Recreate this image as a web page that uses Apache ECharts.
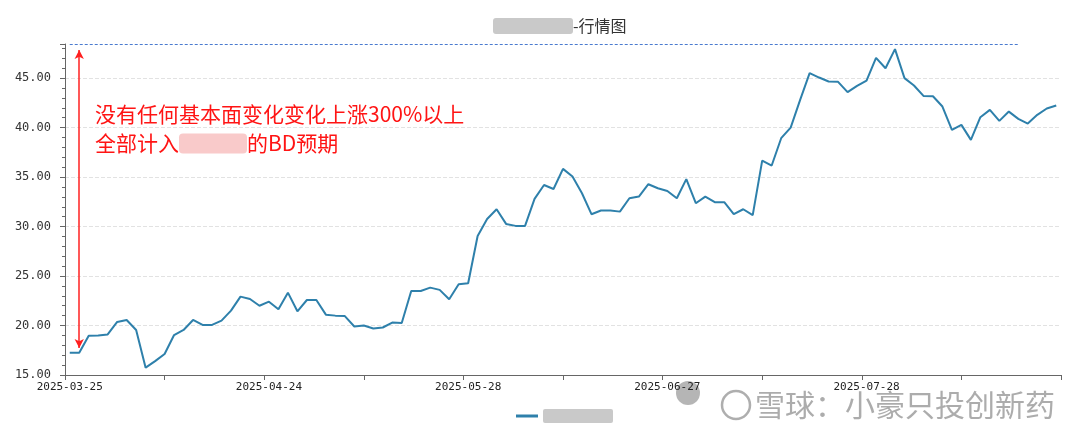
<!DOCTYPE html>
<html><head><meta charset="utf-8">
<script src="https://cdn.jsdelivr.net/npm/echarts@6/dist/echarts.min.js"></script>
<style>html,body{margin:0;padding:0;background:#fff}#c{width:1080px;height:434px}</style>
</head><body><div id="c"></div>
<script>
// ---- data ----
const dates = [
 '2025-03-25','2025-03-26','2025-03-27','2025-03-28','2025-03-31',
 '2025-04-01','2025-04-02','2025-04-03','2025-04-07','2025-04-08','2025-04-09','2025-04-10','2025-04-11',
 '2025-04-14','2025-04-15','2025-04-16','2025-04-17','2025-04-18','2025-04-21','2025-04-22','2025-04-23',
 '2025-04-24','2025-04-25','2025-04-28','2025-04-29','2025-04-30',
 '2025-05-06','2025-05-07','2025-05-08','2025-05-09','2025-05-12','2025-05-13','2025-05-14','2025-05-15','2025-05-16',
 '2025-05-19','2025-05-20','2025-05-21','2025-05-22','2025-05-23','2025-05-26','2025-05-27','2025-05-28','2025-05-29','2025-05-30',
 '2025-06-03','2025-06-04','2025-06-05','2025-06-06','2025-06-09','2025-06-10','2025-06-11','2025-06-12','2025-06-13',
 '2025-06-16','2025-06-17','2025-06-18','2025-06-19','2025-06-20','2025-06-23','2025-06-24','2025-06-25','2025-06-26','2025-06-27','2025-06-30',
 '2025-07-01','2025-07-02','2025-07-03','2025-07-04','2025-07-07','2025-07-08','2025-07-09','2025-07-10','2025-07-11',
 '2025-07-14','2025-07-15','2025-07-16','2025-07-17','2025-07-18','2025-07-21','2025-07-22','2025-07-23','2025-07-24','2025-07-25',
 '2025-07-28','2025-07-29','2025-07-30','2025-07-31','2025-08-01','2025-08-04','2025-08-05','2025-08-06','2025-08-07','2025-08-08',
 '2025-08-11','2025-08-12','2025-08-13','2025-08-14','2025-08-15','2025-08-18','2025-08-19','2025-08-20','2025-08-21','2025-08-22','2025-08-25'
];
const prices = [
 17.25,17.25,18.97,19.00,19.10,20.36,20.56,19.55,15.74,16.40,
 17.12,19.04,19.55,20.56,20.06,20.06,20.49,21.50,22.92,22.68,
 22.00,22.41,21.64,23.32,21.44,22.58,22.58,21.10,21.00,20.95,
 19.90,20.00,19.70,19.80,20.30,20.25,23.49,23.49,23.83,23.60,
 22.65,24.17,24.27,29.05,30.77,31.75,30.27,30.07,30.07,32.80,
 34.20,33.80,35.83,35.05,33.37,31.25,31.62,31.62,31.51,32.86,
 33.03,34.28,33.87,33.60,32.86,34.80,32.36,33.03,32.46,32.46,
 31.25,31.75,31.15,36.67,36.17,38.93,40.00,42.80,45.50,45.06,
 44.66,44.63,43.58,44.22,44.76,47.05,46.00,47.93,45.00,44.26,
 43.20,43.17,42.13,39.77,40.28,38.76,41.05,41.79,40.68,41.62,
 40.88,40.41,41.29,41.93,42.23
];
const tickSlots = ['','','','','','','','','',''];
const yMin = 15, yMax = 48.45, yStep = 5;
const arrowIndex = 1, arrowTop = 47.85, arrowBottom = 17.73;
const refLineValue = 48.45, refLineStart = 0, refLineEnd = 100;
const noteLine1 = '没有任何基本面变化变化上涨300%以上';
const noteLine2a = '全部计入', noteLine2b = '的BD预期';
const titleSuffix = '-行情图';
const seriesName = '行情';
const watermark = '雪球：小豪只投创新药';

const chart = echarts.init(document.getElementById('c'), null, {renderer: 'canvas'});
const mono = 'DejaVu Sans Mono';
const cjk = '"Noto Sans CJK SC", "Noto Sans", sans-serif';

chart.setOption({
  animation: false,
  backgroundColor: '#fff',
  title: {
    left: 488, top: 13,
    text: '{b|}{t|' + titleSuffix + '}',
    textStyle: {
      rich: {
        b: {width: 80, height: 16, backgroundColor: '#c9c9c9', borderRadius: 3},
        t: {fontSize: 16, color: '#333', fontFamily: cjk, fontWeight: 'normal'}
      }
    }
  },
  legend: {
    left: 511, top: 404,
    itemWidth: 22, itemHeight: 3, itemGap: 6,
    data: [{name: seriesName, icon: 'rect'}],
    formatter: () => '{b|}',
    textStyle: {rich: {b: {width: 70, height: 14, backgroundColor: '#c9c9c9', borderRadius: 2}}}
  },
  grid: {left: 65, right: 19, top: 44, bottom: 59},
  xAxis: [{
    type: 'category', data: dates, boundaryGap: true,
    axisLine: {lineStyle: {color: '#666'}},
    axisTick: {show: false},
    axisLabel: {interval: 20, color: '#222', fontFamily: mono, fontSize: 11, margin: 7},
    splitLine: {show: false}
  }, {
    type: 'category', data: tickSlots, boundaryGap: true, position: 'bottom',
    axisLine: {show: false},
    axisTick: {show: true, length: 5, lineStyle: {color: '#666'}},
    axisLabel: {show: false},
    splitLine: {show: false}
  }],
  yAxis: {
    type: 'value', min: yMin, max: yMax, interval: yStep,
    axisLine: {show: true, lineStyle: {color: '#666'}},
    axisTick: {show: true, length: 5, lineStyle: {color: '#666'}},
    minorTick: {show: true, splitNumber: 5, length: 3, lineStyle: {color: '#666'}},
    axisLabel: {
      formatter: v => v.toFixed(2), color: '#333', fontFamily: mono, fontSize: 12,
      margin: 14, showMaxLabel: false
    },
    splitLine: {show: true, showMaxLine: false, lineStyle: {type: 'dashed', color: '#e2e2e2'}}
  },
  series: [{
    name: seriesName, type: 'line', data: prices, xAxisIndex: 0,
    symbol: 'none', showSymbol: false,
    lineStyle: {color: '#2e80ab', width: 2},
    itemStyle: {color: '#2e80ab'},
    markLine: {
      silent: true, animation: false,
      label: {show: false},
      data: [
        [{coord: [arrowIndex, arrowTop], symbol: 'arrow', symbolSize: [7, 9],
          lineStyle: {color: '#ff2020', width: 1.5, type: 'solid'}},
         {coord: [arrowIndex, arrowBottom], symbol: 'arrow', symbolSize: [7, 9]}],
        [{coord: [refLineStart, refLineValue], symbol: 'none',
          lineStyle: {color: '#4a7bd0', width: 1, type: [3, 2]}},
         {coord: [refLineEnd, refLineValue], symbol: 'none'}]
      ]
    }
  }],
  graphic: [
    {
      type: 'text', left: 95, top: 100, silent: true,
      style: {
        text: noteLine1 + '\n' + noteLine2a + '{b|}' + noteLine2b,
        fill: '#ff1414', font: '21px ' + cjk, lineHeight: 29,
        rich: {b: {width: 68, height: 20, backgroundColor: '#f9caca', borderRadius: 4}}
      }
    },
    {
      type: 'circle', shape: {cx: 688, cy: 393, r: 12}, silent: true,
      style: {fill: 'rgba(120,120,120,0.55)'}
    },
    {
      type: 'circle', shape: {cx: 736, cy: 405, r: 14}, silent: true,
      style: {fill: 'none', stroke: 'rgba(140,140,140,0.7)', lineWidth: 2.5}
    },
    {
      type: 'text', x: 755, y: 405, silent: true,
      style: {
        text: watermark, fill: 'rgba(140,140,140,0.72)', font: '30px ' + cjk,
        verticalAlign: 'middle', stroke: 'rgba(255,255,255,0.6)', lineWidth: 1
      }
    }
  ]
});
</script></body></html>
